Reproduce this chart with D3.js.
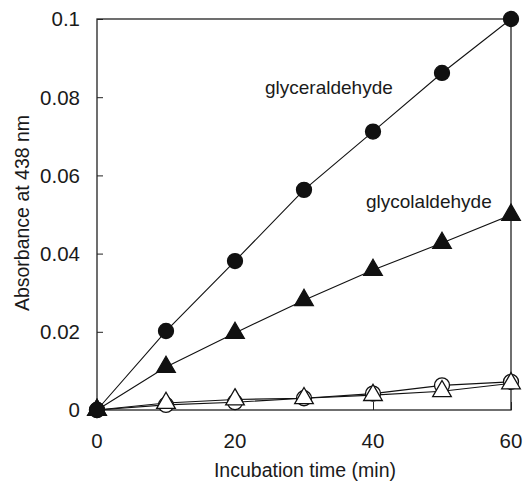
<!DOCTYPE html>
<html><head><meta charset="utf-8">
<script src="https://cdn.jsdelivr.net/npm/d3@7"></script>
<style>body{margin:0;background:#fff}text{font-family:"Liberation Sans",Arial,sans-serif;fill:#1a1a1a}</style>
</head><body><svg id="c" width="523" height="482"></svg>
<script>
const times = [0, 10, 20, 30, 40, 50, 60];
const glyceraldehyde = [0, 0.0202, 0.0381, 0.0563, 0.0712, 0.0862, 0.1];
const glycolaldehyde = [0, 0.011, 0.0197, 0.0281, 0.0358, 0.0427, 0.0499];
const openCircle = [0, 0.0013, 0.002, 0.003, 0.0042, 0.0063, 0.0072];
const openTriangle = [0, 0.0018, 0.0027, 0.003, 0.0038, 0.0048, 0.0068];
const xTicks = [0, 20, 40, 60];
const yTicks = [0, 0.02, 0.04, 0.06, 0.08, 0.1];
const yTickLabels = ["0", "0.02", "0.04", "0.06", "0.08", "0.1"];

const svg = d3.select("#c");
const m = {l: 97, r: 511, t: 19, b: 410};
const x = d3.scaleLinear().domain([0, 60]).range([m.l, m.r]);
const y = d3.scaleLinear().domain([0, 0.1]).range([m.b, m.t]);

svg.append("rect").attr("x", m.l).attr("y", m.t).attr("width", m.r - m.l).attr("height", m.b - m.t)
  .attr("fill", "none").attr("stroke", "#222").attr("stroke-width", 1.3);

const ya = svg.append("g").attr("transform", `translate(${m.l},0)`)
  .call(d3.axisRight(y).tickValues(yTicks).tickSize(6).tickFormat(""));
ya.select(".domain").remove();
ya.selectAll("line").attr("stroke", "#222");
svg.append("g").selectAll("text").data(yTicks).join("text")
  .attr("x", 80).attr("y", d => y(d)).attr("dy", "0.36em").attr("text-anchor", "end")
  .attr("font-size", 20.5).text((d, i) => yTickLabels[i]);

const xa = svg.append("g").attr("transform", `translate(0,${m.b})`)
  .call(d3.axisTop(x).tickValues(xTicks).tickSize(8).tickFormat(""));
xa.select(".domain").remove();
xa.selectAll("line").attr("stroke", "#222");
svg.append("g").selectAll("text").data(xTicks).join("text")
  .attr("x", d => x(d)).attr("y", 448).attr("text-anchor", "middle")
  .attr("font-size", 20.5).text(d => d);

svg.append("text").attr("x", 305).attr("y", 477).attr("text-anchor", "middle")
  .attr("font-size", 19.5).text("Incubation time (min)");
svg.append("text").attr("transform", "translate(29,213) rotate(-90)").attr("text-anchor", "middle")
  .attr("font-size", 19.5).text("Absorbance at 438 nm");

const line = d3.line().x((d, i) => x(times[i])).y(d => y(d));
const series = [
  {v: openCircle, shape: "circ", fill: "#fff"},
  {v: openTriangle, shape: "tri", fill: "#fff"},
  {v: glycolaldehyde, shape: "tri", fill: "#111"},
  {v: glyceraldehyde, shape: "circ", fill: "#111"}
];
series.forEach(s => {
  svg.append("path").attr("d", line(s.v)).attr("fill", "none").attr("stroke", "#111").attr("stroke-width", 1.1);
});
const tri = d3.symbol().type(d3.symbolTriangle).size(150);
series.forEach(s => {
  const g = svg.append("g");
  if (s.shape === "circ") {
    g.selectAll("circle").data(s.v).join("circle")
      .attr("cx", (d, i) => x(times[i])).attr("cy", d => y(d)).attr("r", 7.5)
      .attr("fill", s.fill).attr("stroke", "#111").attr("stroke-width", 1.3);
  } else {
    g.selectAll("path").data(s.v).join("path").attr("d", tri)
      .attr("transform", (d, i) => `translate(${x(times[i])},${y(d)})`)
      .attr("fill", s.fill).attr("stroke", "#111").attr("stroke-width", 1.3);
  }
});

svg.append("text").attr("x", 265).attr("y", 94).attr("font-size", 19).text("glyceraldehyde");
svg.append("text").attr("x", 366).attr("y", 208).attr("font-size", 19).text("glycolaldehyde");
</script></body></html>
